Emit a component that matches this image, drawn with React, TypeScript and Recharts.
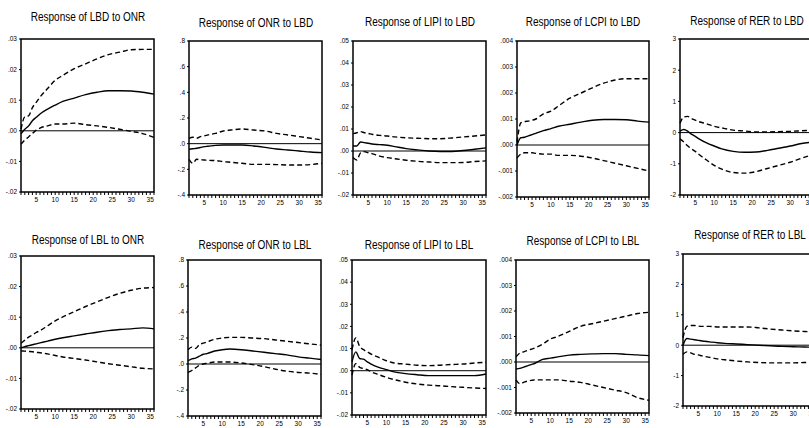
import React from "react";
import {
  LineChart,
  Line,
  XAxis,
  YAxis,
  ReferenceArea,
  ReferenceLine,
} from "recharts";

// forecast periods
const periods = [1, 2, 3, 4, 5, 6, 8, 10, 12, 15, 18, 21, 24, 27, 30, 33, 36];
const xTicks = Array.from({ length: 36 }, (_, i) => i + 1);

// Response of LBD to ONR
const lbdOnrMid = [-0.001, 0.0005, 0.0016, 0.0033, 0.0044, 0.0055, 0.0071, 0.0084, 0.0096, 0.0107, 0.0118, 0.0126, 0.0131, 0.0131, 0.013, 0.0126, 0.012];
const lbdOnrHi = [0.0005, 0.0046, 0.0049, 0.0076, 0.0093, 0.011, 0.0138, 0.0165, 0.0181, 0.0203, 0.0219, 0.0235, 0.0249, 0.0257, 0.0265, 0.0266, 0.0266];
const lbdOnrLo = [-0.0044, -0.003, -0.002, -0.0009, 0.0002, 0.0009, 0.0016, 0.0022, 0.0022, 0.0025, 0.002, 0.0016, 0.0011, 0.0005, -0.0002, -0.0009, -0.0022];

// Response of ONR to LBD
const onrLbdMid = [-0.044, -0.04, -0.036, -0.03, -0.023, -0.02, -0.013, -0.01, -0.01, -0.01, -0.018, -0.029, -0.042, -0.049, -0.057, -0.065, -0.07];
const onrLbdHi = [0.042, 0.05, 0.042, 0.055, 0.06, 0.068, 0.08, 0.099, 0.106, 0.114, 0.106, 0.099, 0.08, 0.068, 0.055, 0.042, 0.029];
const onrLbdLo = [-0.122, -0.153, -0.122, -0.125, -0.127, -0.13, -0.132, -0.14, -0.145, -0.153, -0.161, -0.161, -0.163, -0.166, -0.166, -0.163, -0.153];

// Response of LIPI to LBD
const lipiLbdMid = [0.0023, 0.0023, 0.0041, 0.0038, 0.0035, 0.0032, 0.0029, 0.0026, 0.002, 0.0011, 0.0005, 0, -0.0002, -0.0002, 0.0002, 0.0008, 0.0014];
const lipiLbdHi = [0.0079, 0.0083, 0.0088, 0.0083, 0.008, 0.0076, 0.0071, 0.0068, 0.0064, 0.006, 0.0058, 0.0056, 0.0056, 0.0059, 0.0064, 0.0068, 0.0073];
const lipiLbdLo = [-0.003, -0.0041, -0.0008, -0.0003, -0.0008, -0.0012, -0.0023, -0.003, -0.0035, -0.0042, -0.0047, -0.005, -0.0053, -0.0053, -0.0052, -0.0048, -0.0045];

// Response of LCPI to LBD
const lcpiLbdMid = [0, 0.00028, 0.0003, 0.00035, 0.0004, 0.00045, 0.00055, 0.00063, 0.00072, 0.0008, 0.00088, 0.00095, 0.00098, 0.00098, 0.00097, 0.00092, 0.00088];
const lcpiLbdHi = [0.0001, 0.00085, 0.0009, 0.00092, 0.00095, 0.001, 0.0012, 0.0013, 0.0015, 0.0018, 0.002, 0.0022, 0.00238, 0.0025, 0.00255, 0.00255, 0.00255];
const lcpiLbdLo = [-0.0005, -0.00035, -0.0003, -0.0003, -0.0003, -0.00032, -0.00035, -0.00035, -0.0004, -0.0004, -0.00043, -0.0005, -0.0006, -0.0007, -0.0008, -0.0009, -0.001];

// Response of RER to LBD
const rerLbdMid = [0.05, 0.1, 0.05, -0.05, -0.12, -0.2, -0.33, -0.43, -0.52, -0.6, -0.63, -0.62, -0.57, -0.5, -0.43, -0.35, -0.3];
const rerLbdHi = [0.3, 0.5, 0.52, 0.45, 0.4, 0.35, 0.28, 0.2, 0.15, 0.08, 0.05, 0.02, 0.02, 0.03, 0.04, 0.06, 0.08];
const rerLbdLo = [-0.2, -0.3, -0.42, -0.52, -0.6, -0.7, -0.88, -1.05, -1.17, -1.28, -1.3, -1.25, -1.15, -1.05, -0.95, -0.82, -0.7];

// Response of LBL to ONR
const lblOnrMid = [0, 0.0004, 0.0007, 0.001, 0.0013, 0.0016, 0.0022, 0.0028, 0.0033, 0.0039, 0.0045, 0.0051, 0.0056, 0.006, 0.0062, 0.0065, 0.0062];
const lblOnrHi = [0.0015, 0.0025, 0.0035, 0.0042, 0.005, 0.0056, 0.0072, 0.0088, 0.0101, 0.0118, 0.0135, 0.015, 0.0165, 0.0178, 0.0188, 0.0195, 0.0197];
const lblOnrLo = [-0.001, -0.0011, -0.0012, -0.0013, -0.0015, -0.0016, -0.002, -0.0025, -0.003, -0.0035, -0.004, -0.0046, -0.0052, -0.0057, -0.0062, -0.0067, -0.0069];

// Response of ONR to LBL
const onrLblMid = [0.025, 0.04, 0.045, 0.06, 0.075, 0.08, 0.1, 0.11, 0.115, 0.11, 0.1, 0.09, 0.08, 0.07, 0.055, 0.045, 0.035];
const onrLblHi = [0.11, 0.13, 0.12, 0.15, 0.16, 0.17, 0.19, 0.2, 0.205, 0.205, 0.2, 0.195, 0.185, 0.175, 0.165, 0.155, 0.145];
const onrLblLo = [-0.065, -0.05, -0.03, -0.01, 0, 0.005, 0.015, 0.015, 0.015, 0.008, -0.005, -0.02, -0.04, -0.055, -0.065, -0.07, -0.08];

// Response of LIPI to LBL
const lipiLblMid = [0.004, 0.0085, 0.0055, 0.0052, 0.004, 0.003, 0.0015, 0.0005, -0.0005, -0.0013, -0.0018, -0.0022, -0.0022, -0.0022, -0.0022, -0.0022, -0.0015];
const lipiLblHi = [0.0095, 0.0148, 0.011, 0.0095, 0.0085, 0.0075, 0.006, 0.0045, 0.0035, 0.003, 0.0025, 0.0023, 0.0025, 0.0028, 0.003, 0.0035, 0.0038];
const lipiLblLo = [-0.002, 0.0032, 0.0015, 0.001, 0.0005, -0.0005, -0.0018, -0.003, -0.004, -0.0052, -0.006, -0.0065, -0.0068, -0.0072, -0.0075, -0.0078, -0.008];

// Response of LCPI to LBL
const lcpiLblMid = [-0.00028, -0.00025, -0.0002, -0.00015, -0.0001, -0.00005, 0.0001, 0.00015, 0.0002, 0.00027, 0.0003, 0.00032, 0.00033, 0.00033, 0.0003, 0.00028, 0.00025];
const lcpiLblHi = [0.0002, 0.00035, 0.0004, 0.00045, 0.0005, 0.00055, 0.0007, 0.0009, 0.001, 0.0012, 0.0014, 0.0015, 0.0016, 0.0017, 0.0018, 0.0019, 0.00195];
const lcpiLblLo = [-0.0007, -0.00085, -0.0008, -0.00075, -0.00072, -0.0007, -0.0007, -0.0007, -0.0007, -0.00075, -0.0008, -0.0009, -0.001, -0.0011, -0.0012, -0.0014, -0.0015];

// Response of RER to LBL
const rerLblMid = [0, 0.22, 0.2, 0.18, 0.16, 0.14, 0.11, 0.08, 0.06, 0.04, 0.02, 0, -0.02, -0.04, -0.05, -0.06, -0.07];
const rerLblHi = [0.25, 0.62, 0.65, 0.65, 0.63, 0.62, 0.62, 0.6, 0.6, 0.6, 0.6, 0.57, 0.53, 0.5, 0.47, 0.45, 0.43];
const rerLblLo = [-0.3, -0.22, -0.25, -0.3, -0.32, -0.35, -0.4, -0.45, -0.48, -0.52, -0.55, -0.57, -0.58, -0.58, -0.58, -0.57, -0.55];

// y tick values
const ticksPct = [-0.02, -0.01, 0, 0.01, 0.02, 0.03];
const ticksOnr = [-0.4, -0.2, 0, 0.2, 0.4, 0.6, 0.8];
const ticksLipi = [-0.02, -0.01, 0, 0.01, 0.02, 0.03, 0.04, 0.05];
const ticksLcpi = [-0.002, -0.001, 0, 0.001, 0.002, 0.003, 0.004];
const ticksRer = [-2, -1, 0, 1, 2, 3];

const FONT = "'Liberation Sans', Arial, sans-serif";

const panels = [
  { title: "Response of LBD to ONR", mid: lbdOnrMid, hi: lbdOnrHi, lo: lbdOnrLo, ticks: ticksPct, dec: 2, box: [21, 39, 133, 153], titleY: 17 },
  { title: "Response of ONR to LBD", mid: onrLbdMid, hi: onrLbdHi, lo: onrLbdLo, ticks: ticksOnr, dec: 1, box: [189, 41, 133, 154], titleY: 23 },
  { title: "Response of LIPI to LBD", mid: lipiLbdMid, hi: lipiLbdHi, lo: lipiLbdLo, ticks: ticksLipi, dec: 2, box: [353, 41, 133, 154], titleY: 22 },
  { title: "Response of LCPI to LBD", mid: lcpiLbdMid, hi: lcpiLbdHi, lo: lcpiLbdLo, ticks: ticksLcpi, dec: 3, box: [517, 41, 132, 156], titleY: 22 },
  { title: "Response of RER to LBD", mid: rerLbdMid, hi: rerLbdHi, lo: rerLbdLo, ticks: ticksRer, dec: 0, box: [680, 39, 133, 156], titleY: 21 },
  { title: "Response of LBL to ONR", mid: lblOnrMid, hi: lblOnrHi, lo: lblOnrLo, ticks: ticksPct, dec: 2, box: [21, 256, 133, 153], titleY: 240 },
  { title: "Response of ONR to LBL", mid: onrLblMid, hi: onrLblHi, lo: onrLblLo, ticks: ticksOnr, dec: 1, box: [188, 260, 133, 156], titleY: 245 },
  { title: "Response of LIPI to LBL", mid: lipiLblMid, hi: lipiLblHi, lo: lipiLblLo, ticks: ticksLipi, dec: 2, box: [352, 260, 134, 155], titleY: 245 },
  { title: "Response of LCPI to LBL", mid: lcpiLblMid, hi: lcpiLblHi, lo: lcpiLblLo, ticks: ticksLcpi, dec: 3, box: [516, 260, 133, 153], titleY: 241 },
  { title: "Response of RER to LBL", mid: rerLblMid, hi: rerLblHi, lo: rerLblLo, ticks: ticksRer, dec: 0, box: [683, 254, 133, 152], titleY: 235 },
];

const Y_W = 28;
const X_H = 16;
const TOP = 4;
const RIGHT = 4;

function fmt(v: number, dec: number) {
  const s = v.toFixed(dec);
  return dec === 0 ? s : s.replace("0.", ".");
}

function Panel({ p }: { p: (typeof panels)[number] }) {
  const [bx, by, bw, bh] = p.box;
  const rows = periods.map((t, i) => ({ t, mid: p.mid[i], hi: p.hi[i], lo: p.lo[i] }));
  const yMin = p.ticks[0];
  const yMax = p.ticks[p.ticks.length - 1];
  return (
    <>
      <div
        style={{
          position: "absolute",
          left: bx + bw / 2,
          top: p.titleY,
          transform: "translate(-50%, -50%) scaleX(0.8)",
          whiteSpace: "nowrap",
          fontFamily: FONT,
          fontSize: 12.5,
          color: "#000",
        }}
      >
        {p.title}
      </div>
      <div style={{ position: "absolute", left: bx - Y_W, top: by - TOP }}>
        <LineChart
          width={bw + Y_W + RIGHT}
          height={bh + TOP + X_H}
          data={rows}
          margin={{ top: TOP, right: RIGHT, bottom: 0, left: 0 }}
        >
          <XAxis
            dataKey="t"
            type="number"
            domain={[1, 36]}
            ticks={xTicks}
            interval={0}
            height={X_H}
            axisLine={false}
            tickLine={{ stroke: "#000" }}
            tickSize={3}
            tick={{ fontSize: 6.5, fill: "#000", fontFamily: FONT }}
            tickFormatter={(v: number) => (v % 5 === 0 ? String(v) : "")}
          />
          <YAxis
            type="number"
            domain={[yMin, yMax]}
            ticks={p.ticks}
            interval={0}
            width={Y_W}
            axisLine={false}
            tickLine={{ stroke: "#000" }}
            tickSize={2}
            tick={{ fontSize: 6.5, fill: "#000", fontFamily: FONT }}
            tickFormatter={(v: number) => fmt(v, p.dec)}
          />
          <ReferenceLine y={0} stroke="#000" strokeWidth={1} />
          <Line dataKey="hi" type="monotone" stroke="#000" strokeWidth={1.4} strokeDasharray="5 3" dot={false} isAnimationActive={false} />
          <Line dataKey="lo" type="monotone" stroke="#000" strokeWidth={1.4} strokeDasharray="5 3" dot={false} isAnimationActive={false} />
          <Line dataKey="mid" type="monotone" stroke="#000" strokeWidth={1.4} dot={false} isAnimationActive={false} />
          <ReferenceArea x1={1} x2={36} y1={yMin} y2={yMax} fill="none" stroke="#000" strokeWidth={1.5} ifOverflow="visible" />
        </LineChart>
      </div>
    </>
  );
}

export default function App() {
  return (
    <div
      style={{
        position: "fixed",
        left: 0,
        top: 0,
        width: 809,
        height: 428,
        overflow: "hidden",
        background: "#fff",
      }}
    >
      {panels.map((p) => (
        <Panel key={p.title} p={p} />
      ))}
    </div>
  );
}
